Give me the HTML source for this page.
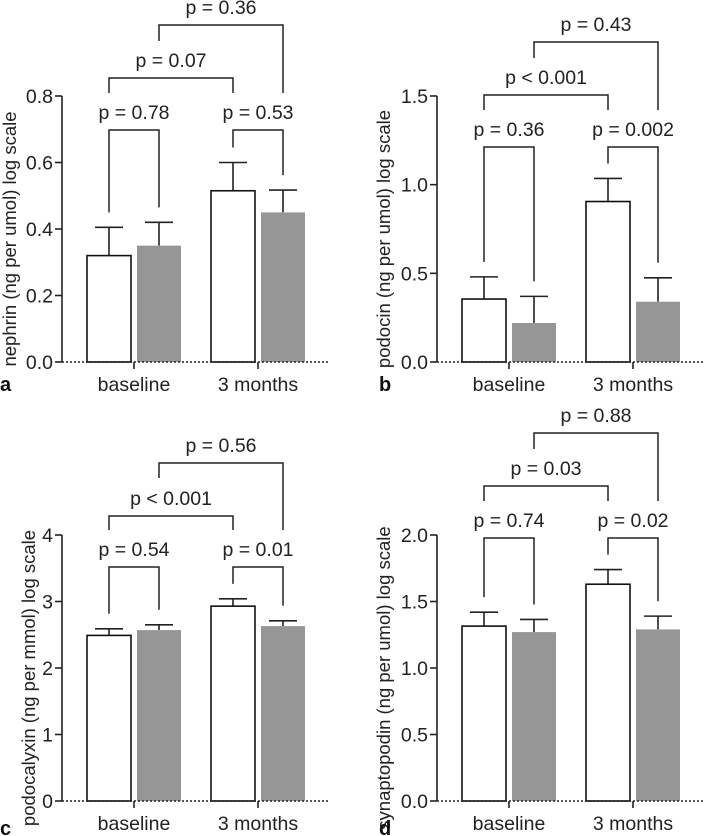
<!DOCTYPE html>
<html><head><meta charset="utf-8"><style>
body{margin:0;background:#fff;width:705px;height:836px;overflow:hidden}
svg{display:block;font-family:"Liberation Sans",Arial,sans-serif}
</style></head><body>
<svg id="fig" width="705" height="836" viewBox="0 0 705 836"></svg>
<script>
const categories = ["baseline", "3 months"];
const nephrinMeans = [0.32, 0.35, 0.515, 0.45];
const nephrinErr = [0.085, 0.07, 0.085, 0.067];
const nephrinTicks = ["0.0","0.2","0.4","0.6","0.8"];
const nephrinP = ["p = 0.78","p = 0.53","p = 0.07","p = 0.36"];
const podocinMeans = [0.355, 0.22, 0.905, 0.34];
const podocinErr = [0.125, 0.15, 0.13, 0.135];
const podocinTicks = ["0.0","0.5","1.0","1.5"];
const podocinP = ["p = 0.36","p = 0.002","p < 0.001","p = 0.43"];
const podocalyxinMeans = [2.49, 2.57, 2.93, 2.63];
const podocalyxinErr = [0.1, 0.08, 0.11, 0.08];
const podocalyxinTicks = ["0","1","2","3","4"];
const podocalyxinP = ["p = 0.54","p = 0.01","p < 0.001","p = 0.56"];
const synaptoMeans = [1.315, 1.27, 1.63, 1.29];
const synaptoErr = [0.105, 0.095, 0.11, 0.1];
const synaptoTicks = ["0.0","0.5","1.0","1.5","2.0"];
const synaptoP = ["p = 0.74","p = 0.02","p = 0.03","p = 0.88"];

const NS="http://www.w3.org/2000/svg";
const svg=document.getElementById('fig');
function mk(tag,attrs,parent){const e=document.createElementNS(NS,tag);for(const k in attrs)e.setAttribute(k,attrs[k]);(parent||svg).appendChild(e);return e;}

const FS=19.5;
const panels=[
 {id:'a',ox:0,top:96,bot:362,max:0.8,means:nephrinMeans,err:nephrinErr,ticks:nephrinTicks,p:nephrinP,title:'nephrin (ng per umol) log scale',tx:9,
  br:[130,130,78,25],top2:[93,41],letterY:391},
 {id:'b',ox:375,top:96,bot:362,max:1.5,means:podocinMeans,err:podocinErr,ticks:podocinTicks,p:podocinP,title:'podocin (ng per umol) log scale',tx:8,
  br:[147,147,95,42],top2:[110,58],letterY:391},
 {id:'c',ox:0,top:535,bot:801,max:4,means:podocalyxinMeans,err:podocalyxinErr,ticks:podocalyxinTicks,p:podocalyxinP,title:'podocalyxin (ng per mmol) log scale',tx:28,
  br:[567,567,516,463],top2:[530,478],letterY:835},
 {id:'d',ox:375,top:535,bot:801,max:2,means:synaptoMeans,err:synaptoErr,ticks:synaptoTicks,p:synaptoP,title:'synaptopodin (ng per umol) log scale',tx:8,
  br:[538,538,486,433],top2:[501,449],letterY:835}
];

panels.forEach(P=>{
  const g=mk('g',{});
  
  
  const ax=62+P.ox;
  const y=v=>P.bot-(v/P.max)*(P.bot-P.top);
  const barX=[87,137,211,261].map(v=>v+P.ox);
  const bw=44;
  P.means.forEach((m,i)=>{
    const top=y(m+P.err[i]), cx=barX[i]+bw/2;
    const eb=mk('path',{d:`M${cx} ${y(m)}V${top}M${cx-14} ${top}H${cx+14}`,stroke:'#222','stroke-width':1.6,fill:'none'},g);
    
    
    const white=i%2===0;
    const r=mk('rect',{x:barX[i],y:y(m),width:bw,height:P.bot-y(m),fill:white?'#fff':'#969696',stroke:white?'#111':'none','stroke-width':1.6},g);
    
    
  });
  const yax=mk('line',{x1:ax,y1:P.top,x2:ax,y2:P.bot,stroke:'#222','stroke-width':1.6},g);
  
  
  P.ticks.forEach((t,i)=>{
    const v=P.max*i/(P.ticks.length-1), ty=y(v);
    mk('line',{x1:ax-7,y1:ty,x2:ax,y2:ty,stroke:'#222','stroke-width':1.6},g);
    const tl=mk('text',{x:ax-9,y:ty+7,'text-anchor':'end','font-size':FS,fill:'#222'},g);
    tl.textContent=t;
    
    
  });
  const xax=mk('line',{x1:ax,y1:P.bot,x2:ax+268,y2:P.bot,stroke:'#222','stroke-width':1.6,'stroke-dasharray':'2 2'},g);
  
  
  categories.forEach((c,i)=>{
    const cx=(i===0?134:258)+P.ox;
    mk('line',{x1:cx,y1:P.bot,x2:cx,y2:P.bot+7,stroke:'#222','stroke-width':1.6},g);
    const xl=mk('text',{x:cx,y:P.bot+29,'text-anchor':'middle','font-size':FS,fill:'#222'},g);
    xl.textContent=c;
    
    
  });
  const cy=(P.top+P.bot)/2+10;
  const tt=mk('text',{x:0,y:0,transform:`translate(${P.tx+P.ox+7},${cy}) rotate(-90)`,'text-anchor':'middle','font-size':18.5,fill:'#222'},g);
  tt.textContent=P.title;
  
  
  const lt=mk('text',{x:P.ox+(P.id==='b'||P.id==='d'?4:0),y:P.letterY,'font-size':20,'font-weight':'bold',fill:'#111'},g);
  lt.textContent=P.id;
  
  
  const c=barX.map(v=>v+bw/2);
  const errTop=P.means.map((m,i)=>y(m+P.err[i])-15);
  const defs=[[c[0],c[1],errTop[0],errTop[1]],[c[2],c[3],errTop[2],errTop[3]],[c[0],c[2],P.top2[0],P.top2[0]],[c[1],c[3],P.top2[1],P.top2[0]]];
  defs.forEach((d,k)=>{
    const by=P.br[k];
    const bp=mk('path',{d:`M${d[0]} ${d[2]}V${by}H${d[1]}V${d[3]}`,stroke:'#222','stroke-width':1.5,fill:'none'},g);
    
    
    const pt=mk('text',{x:(d[0]+d[1])/2,y:by-11,'text-anchor':'middle','font-size':FS,fill:'#222'},g);
    pt.textContent=P.p[k];
    
    
  });
});
</script>
</body></html>
